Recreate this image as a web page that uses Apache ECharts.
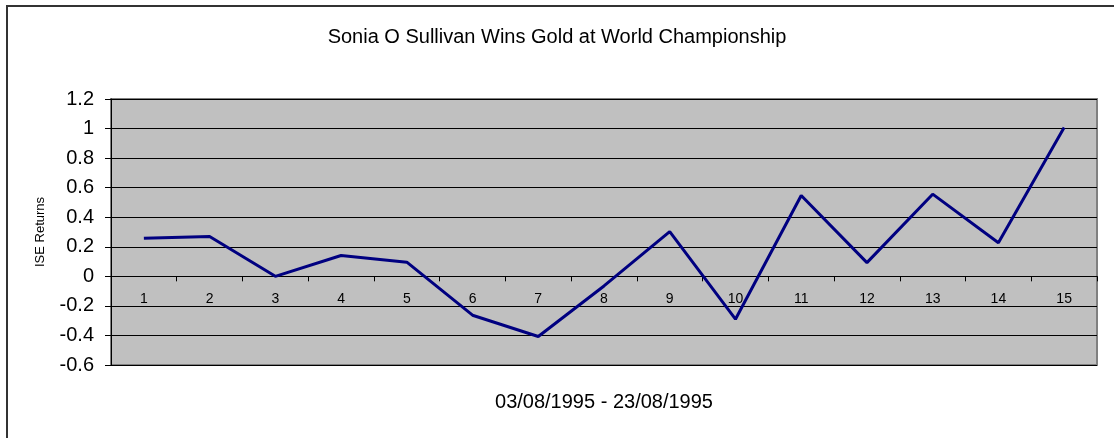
<!DOCTYPE html>
<html>
<head>
<meta charset="utf-8">
<script src="https://cdn.jsdelivr.net/npm/echarts@6/dist/echarts.min.js"></script>
<style>
  html, body { margin: 0; padding: 0; background: #fff; }
  #chart { width: 1114px; height: 438px; }
</style>
</head>
<body>
<div id="chart"></div>
<script>
// data
var days = ['1','2','3','4','5','6','7','8','9','10','11','12','13','14','15'];
var returns = [0.258, 0.27, 0.0, 0.141, 0.096, -0.263, -0.407, -0.065, 0.303, -0.29, 0.547, 0.093, 0.556, 0.227, 1.007];
var chartTitle = 'Sonia O Sullivan Wins Gold at World Championship';
var xName = '03/08/1995 - 23/08/1995';
var yName = 'ISE Returns';

var font = 'Liberation Sans, Arial, sans-serif';
var myChart = echarts.init(document.getElementById('chart'));

var option = {
    animation: false,
    backgroundColor: '#fff',
    title: {
        text: chartTitle,
        left: 'center',
        top: 22,
        textStyle: { fontFamily: font, fontSize: 20, fontWeight: 'normal', color: '#000' }
    },
    graphic: [{
        // outer chart frame (cropped on right and bottom)
        type: 'rect',
        shape: { x: 7, y: 6, width: 1200, height: 500 },
        style: { fill: 'none', stroke: '#333', lineWidth: 2 },
        silent: true
    }],
    grid: {
        left: 111,
        top: 99,
        right: 17,
        bottom: 73,
        containLabel: false,
        outerBoundsMode: 'none',
        show: true,
        backgroundColor: '#C0C0C0',
        borderColor: '#808080',
        borderWidth: 2
    },
    xAxis: {
        type: 'category',
        data: days,
        boundaryGap: true,
        name: xName,
        nameLocation: 'middle',
        nameGap: 27,
        nameTextStyle: { fontFamily: font, fontSize: 20, color: '#000' },
        axisLine: { onZero: true, lineStyle: { color: '#000', width: 1 } },
        axisTick: { show: true, length: 5, lineStyle: { color: '#000' } },
        // labels sit just under the zero line, not at the plot bottom
        axisLabel: { margin: -73, fontFamily: font, fontSize: 14, color: '#000' },
        splitLine: { show: false }
    },
    yAxis: {
        type: 'value',
        min: -0.6,
        max: 1.2,
        interval: 0.2,
        name: yName,
        nameLocation: 'middle',
        nameGap: 64,
        nameTextStyle: { fontFamily: font, fontSize: 13, color: '#000' },
        axisLine: { show: true, lineStyle: { color: '#000', width: 1 } },
        axisTick: { show: true, length: 6, lineStyle: { color: '#000' } },
        axisLabel: {
            margin: 17,
            fontFamily: font,
            fontSize: 20,
            color: '#000',
            formatter: function (v) { return String(Number(v.toFixed(1))); }
        },
        splitLine: { show: true, lineStyle: { color: '#000', width: 1 } }
    },
    series: [{
        name: yName,
        type: 'line',
        data: returns,
        symbol: 'none',
        lineStyle: { color: '#000080', width: 3 },
        itemStyle: { color: '#000080' }
    }]
};

myChart.setOption(option);
</script>
</body>
</html>
